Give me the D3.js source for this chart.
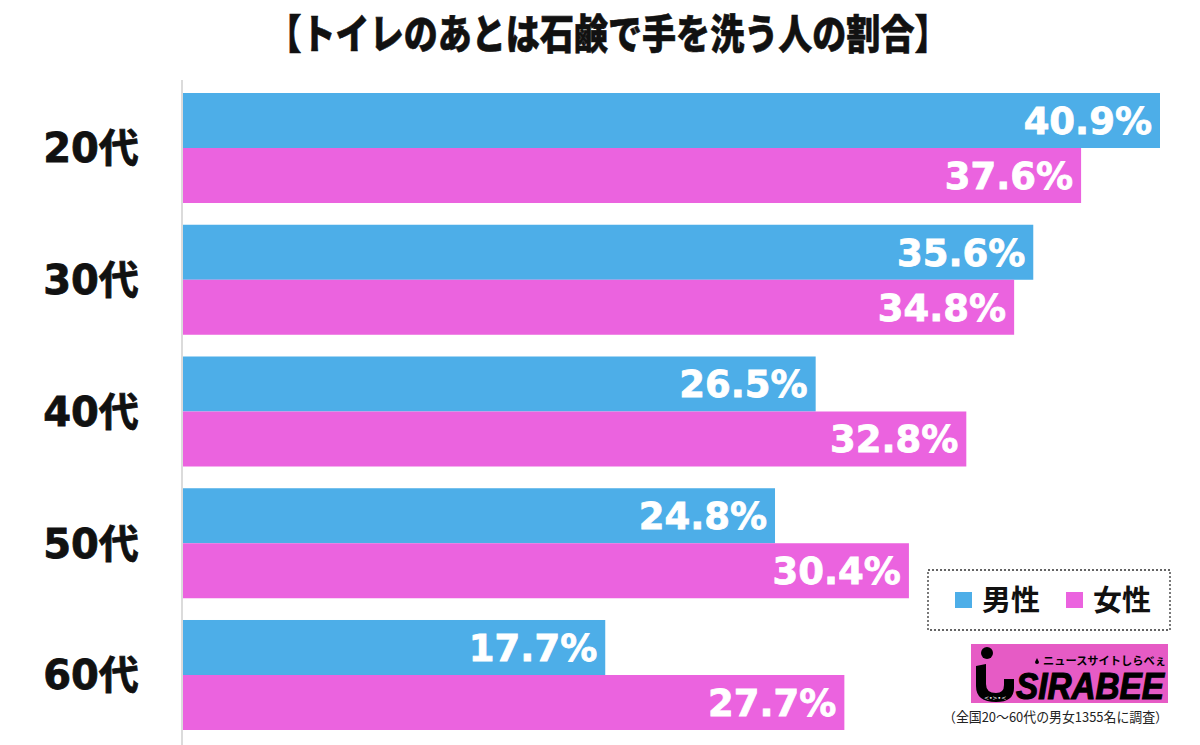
<!DOCTYPE html>
<html><head><meta charset="utf-8">
<script src="https://cdn.jsdelivr.net/npm/d3@7"></script>
<style>html,body{margin:0;padding:0;background:#fff;}svg{display:block;}</style>
</head><body>
<svg id="chart" width="1200" height="745"></svg>
<script>
const titleText = "【トイレのあとは石鹸で手を洗う人の割合】";
const categories = ["20代","30代","40代","50代","60代"];
const seriesNames = ["男性","女性"];
const maleValues = [40.9, 35.6, 26.5, 24.8, 17.7];
const femaleValues = [37.6, 34.8, 32.8, 30.4, 27.7];
const footnote = "（全国20～60代の男女1355名に調査）";
const colors = ["#4DAEE8", "#EB63DF"];

const data = categories.map((c, i) => ({cat: c, vals: [maleValues[i], femaleValues[i]]}));

const svg = d3.select("#chart");

// title
svg.append("text")
  .attr("x", 608).attr("y", 49)
  .attr("text-anchor", "middle")
  .attr("font-family", "'Noto Sans CJK JP'")
  .attr("font-weight", 900)
  .attr("font-size", 41)
  .attr("textLength", 681)
  .attr("lengthAdjust", "spacingAndGlyphs")
  .attr("fill", "#111")
  .attr("stroke", "#111").attr("stroke-width", 0.6)
  .text(titleText);

const x = d3.scaleLinear().domain([0, 40.9]).range([182, 1160]);
const y = d3.scaleBand().domain(categories).range([93, 730]).paddingInner(0.165).paddingOuter(0);
const ySub = d3.scaleBand().domain([0, 1]).range([0, y.bandwidth()]);

// axis line
svg.append("line")
  .attr("x1", x(0)).attr("x2", x(0))
  .attr("y1", 80).attr("y2", 745)
  .attr("stroke", "#cfcfcf").attr("stroke-width", 1.5);

const groups = svg.selectAll("g.grp").data(data).enter().append("g")
  .attr("class", "grp")
  .attr("transform", d => `translate(0,${y(d.cat)})`);

groups.selectAll("rect").data(d => d.vals).enter().append("rect")
  .attr("x", x(0) + 1)
  .attr("y", (v, i) => ySub(i))
  .attr("width", v => x(v) - x(0) - 1)
  .attr("height", ySub.bandwidth())
  .attr("fill", (v, i) => colors[i]);

groups.selectAll("text.val").data(d => d.vals).enter().append("text")
  .attr("class", "val")
  .attr("x", v => x(v) - 8)
  .attr("y", (v, i) => ySub(i) + ySub.bandwidth() / 2)
  .attr("dy", "0.36em")
  .attr("text-anchor", "end")
  .attr("font-family", "'DejaVu Sans', sans-serif")
  .attr("font-weight", "bold")
  .attr("font-size", 37)
  .attr("fill", "#fff")
  .attr("stroke", "#fff").attr("stroke-width", 0.8)
  .text(v => v.toFixed(1) + "%");

// category labels
groups.append("text")
  .attr("x", 91)
  .attr("y", y.bandwidth() / 2)
  .attr("dy", "0.36em")
  .attr("text-anchor", "middle")
  .attr("font-family", "'DejaVu Sans', 'Noto Sans CJK JP', sans-serif")
  .attr("font-weight", "bold")
  .attr("font-size", 40)
  .attr("fill", "#111")
  .attr("stroke", "#111").attr("stroke-width", 0.8)
  .text(d => d.cat);

// legend
const lg = svg.append("g");
lg.append("rect").attr("x", 928).attr("y", 570).attr("width", 242).attr("height", 60)
  .attr("fill", "#fff").attr("stroke", "#333").attr("stroke-width", 1.3).attr("stroke-dasharray", "2,2");
const legX = [955, 1066];
seriesNames.forEach((s, i) => {
  lg.append("rect").attr("x", legX[i]).attr("y", 592).attr("width", 17).attr("height", 16).attr("fill", colors[i]);
  lg.append("text").attr("x", legX[i] + 27).attr("y", 611)
    .attr("font-family", "'Noto Sans CJK JP'").attr("font-weight", "bold").attr("font-size", 29)
    .attr("fill", "#111").text(s);
});

// logo
const logo = svg.append("g").attr("transform", "translate(971,644)");
logo.append("rect").attr("width", 197).attr("height", 59).attr("fill", "#E65BC5");
logo.append("circle").attr("cx", 16).attr("cy", 9).attr("r", 6).attr("fill", "#000");
logo.append("path")
  .attr("d", "M5,22 L15,20 L15,40 Q15,49 25,49 Q33,49 33,41 L33,35 L43,35 L43,44 Q43,58 25,58 Q5,58 5,42 Z")
  .attr("fill", "#000");
logo.append("text").attr("x", 13).attr("y", 56).attr("font-size", 6).attr("fill", "#fff")
  .attr("font-family", "'DejaVu Sans'").text("<•>•<");
logo.append("path").attr("d", "M66,14 L68,18 A2,2 0 1 1 64,18 Z").attr("fill", "#000");
logo.append("text").attr("x", 72).attr("y", 21)
  .attr("font-family", "'Noto Sans CJK JP'").attr("font-weight", "bold").attr("font-size", 11)
  .attr("textLength", 123).attr("lengthAdjust", "spacingAndGlyphs").attr("fill", "#000")
  .text("ニュースサイトしらべぇ");
logo.append("text").attr("x", 45).attr("y", 55)
  .attr("font-family", "'Liberation Sans'").attr("font-weight", "bold").attr("font-style", "italic")
  .attr("font-size", 36).attr("textLength", 148).attr("lengthAdjust", "spacingAndGlyphs")
  .attr("fill", "#000").attr("stroke", "#000").attr("stroke-width", 1.2).text("SIRABEE");

// footnote
svg.append("text").attr("x", 1168).attr("y", 722).attr("text-anchor", "end")
  .attr("font-family", "'Noto Sans CJK JP'").attr("font-size", 13.5)
  .attr("textLength", 225).attr("lengthAdjust", "spacingAndGlyphs")
  .attr("fill", "#222").text(footnote);
</script>
</body></html>
